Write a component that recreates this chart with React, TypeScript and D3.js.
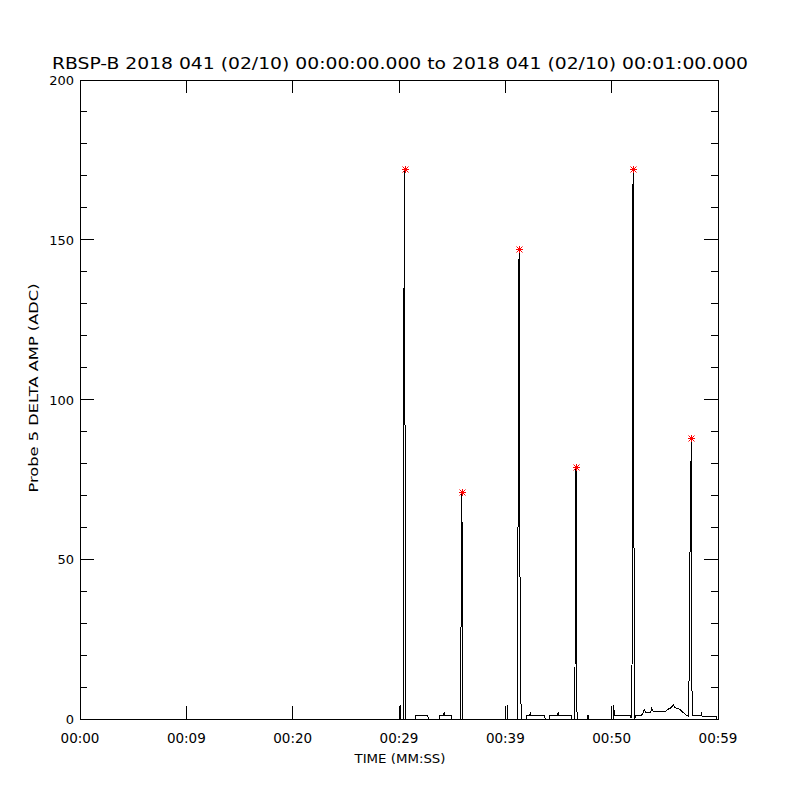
import React from 'react';
import * as d3 from 'd3';

const chartTitle = 'RBSP-B 2018 041 (02/10) 00:00:00.000 to 2018 041 (02/10) 00:01:00.000';
const xTitle = 'TIME (MM:SS)';
const yTitle = 'Probe 5 DELTA AMP (ADC)';

// x ticks are seconds after 00:00:00, labels as the instrument printed them
const xTickValues = [0, 10, 20, 30, 40, 50, 60];
const xTickLabels = ['00:00', '00:09', '00:20', '00:29', '00:39', '00:50', '00:59'];
const yMajorTicks = [0, 50, 100, 150, 200];
const yMinorTicks = d3.range(0, 201, 10).filter(v => v % 50 !== 0);

// trace: time (s) and amplitude (ADC)
const traceTime = [
  0, 30.10, 30.12, 30.14,
  30.38, 30.42, 30.47, 30.56, 30.57, 30.65,
  31.53, 31.55, 32.70, 32.74, 32.78,
  33.78, 33.80, 34.20, 34.26, 34.32, 34.94, 34.98,
  35.79, 35.81, 35.87, 35.92, 35.94, 36.01,
  40.17, 40.19, 40.21,
  41.12, 41.14, 41.21, 41.29, 41.32, 41.44, 41.52,
  41.98, 42.02, 42.30, 42.35, 42.40, 43.70, 43.74,
  44.12, 44.16, 44.92, 44.98, 45.04, 46.18, 46.22,
  46.54, 46.58, 46.61, 46.65, 46.68, 46.74, 46.80,
  47.70, 47.72, 47.80, 47.82,
  50.14, 50.16, 50.28, 51.72, 51.80, 51.88,
  51.92, 51.96, 52.00, 52.01, 52.07, 52.12,
  52.20, 52.25, 52.82, 52.98, 53.07, 53.20, 53.67, 53.76, 53.92,
  55.02, 55.33, 55.49, 55.80, 55.96, 56.36, 56.58, 56.98, 57.20,
  57.24, 57.30, 57.39, 57.49, 57.52, 57.58,
  58.40, 58.45, 58.50, 59.87, 59.90, 60,
];
const traceAmp = [
  0, 0, 4.4, 0,
  0, 50, 134, 172, 19, 0,
  0, 1.2, 1.2, 0.5, 0,
  0, 1.2, 1.2, 2.2, 1.2, 1.2, 0,
  0, 4.4, 68, 71, 41, 0,
  0, 4.4, 0,
  0, 8, 77, 147, 81, 8, 0,
  0, 1.2, 1.2, 2.2, 1.2, 1.2, 0,
  0, 1.2, 1.2, 2.2, 1.2, 1.2, 0,
  0, 49, 67, 79, 67, 2.3, 0,
  0, 1.2, 1.2, 0,
  0, 4.5, 1.2, 1.2, 0.5, 0.5,
  20, 56, 140, 172, 140, 0,
  0.5, 1.25, 1.25, 2.1, 2.9, 2.1, 2.1, 3.3, 2.3,
  2.3, 3.1, 3.3, 4.4, 3.6, 3.1, 2.5, 1.25, 1.25,
  0.5, 20, 62, 88, 20, 1.2,
  1.2, 2.1, 0.8, 0.8, 0, 0,
];

// peak markers (red asterisks)
const peakTime = [30.56, 35.92, 41.29, 46.65, 52.01, 57.49];
const peakAmp = [172, 71, 147, 79, 172, 88];

const left = 80;
const right = 718;
const top = 80;
const bottom = 719;
const font = '"DejaVu Sans", sans-serif';

export default function App() {
  const x = d3.scaleLinear().domain([0, 60]).range([left, right]);
  const y = d3.scaleLinear().domain([0, 200]).range([bottom, top]);

  const points: [number, number][] = traceTime.map((t, i) => [t, traceAmp[i]]);
  const line = d3.line<[number, number]>()
    .x(d => x(d[0]))
    .y(d => y(d[1]));

  // asterisk like IDL psym=2, snapped to pixel centres
  const star = (px: number, py: number) => {
    const cx = Math.round(px) + 0.5, cy = Math.round(py) + 0.5;
    const r = 3.5, d = 3;
    return `M${cx - r},${cy}H${cx + r}M${cx},${cy - r}V${cy + r}` +
      `M${cx - d},${cy - d}L${cx + d},${cy + d}M${cx - d},${cy + d}L${cx + d},${cy - d}`;
  };

  return (
    <div style={{ position: 'absolute', left: 0, top: 0 }}>
      <svg width={800} height={800} style={{ display: 'block', background: '#fff' }}>
        <rect x={0} y={0} width={800} height={800} fill="#fff" />

        <text x={400} y={69} textAnchor="middle" fontFamily={font} fontSize={15}
          textLength={696} lengthAdjust="spacingAndGlyphs">{chartTitle}</text>

        {/* frame */}
        <rect x={left} y={top} width={right - left} height={bottom - top}
          fill="none" stroke="#000" strokeWidth={1} shapeRendering="crispEdges" />

        {/* x ticks, top and bottom */}
        {xTickValues.map((v, i) => (
          <g key={'xt' + i} shapeRendering="crispEdges" stroke="#000">
            <line x1={x(v)} x2={x(v)} y1={bottom} y2={bottom - 13} />
            <line x1={x(v)} x2={x(v)} y1={top} y2={top + 13} />
          </g>
        ))}
        {xTickValues.map((v, i) => (
          <text key={'xl' + i} x={x(v)} y={743} textAnchor="middle"
            fontFamily={font} fontSize={13.5}>{xTickLabels[i]}</text>
        ))}

        {/* y ticks, left and right */}
        {yMajorTicks.map(v => (
          <g key={'ym' + v} shapeRendering="crispEdges" stroke="#000">
            <line x1={left} x2={left + 14} y1={y(v)} y2={y(v)} />
            <line x1={right} x2={right - 14} y1={y(v)} y2={y(v)} />
          </g>
        ))}
        {yMinorTicks.map(v => (
          <g key={'yn' + v} shapeRendering="crispEdges" stroke="#000">
            <line x1={left} x2={left + 7} y1={y(v)} y2={y(v)} />
            <line x1={right} x2={right - 7} y1={y(v)} y2={y(v)} />
          </g>
        ))}
        {yMajorTicks.map(v => (
          <text key={'yl' + v} x={74} y={y(v) + 5} textAnchor="end"
            fontFamily={font} fontSize={13}>{v}</text>
        ))}

        <text x={400} y={763} textAnchor="middle" fontFamily={font} fontSize={12.5}
          textLength={91} lengthAdjust="spacingAndGlyphs">{xTitle}</text>
        <text transform={`translate(38,388) rotate(-90)`} textAnchor="middle"
          fontFamily={font} fontSize={12.5} textLength={209}
          lengthAdjust="spacingAndGlyphs">{yTitle}</text>

        {/* trace */}
        <path d={line(points) ?? ''} fill="none" stroke="#000" strokeWidth={1}
          shapeRendering="crispEdges" />

        {/* peak markers */}
        {peakTime.map((t, i) => (
          <path key={'pk' + i} d={star(x(t), y(peakAmp[i]))} stroke="#ff0000"
            strokeWidth={1} fill="none" />
        ))}
      </svg>
    </div>
  );
}
